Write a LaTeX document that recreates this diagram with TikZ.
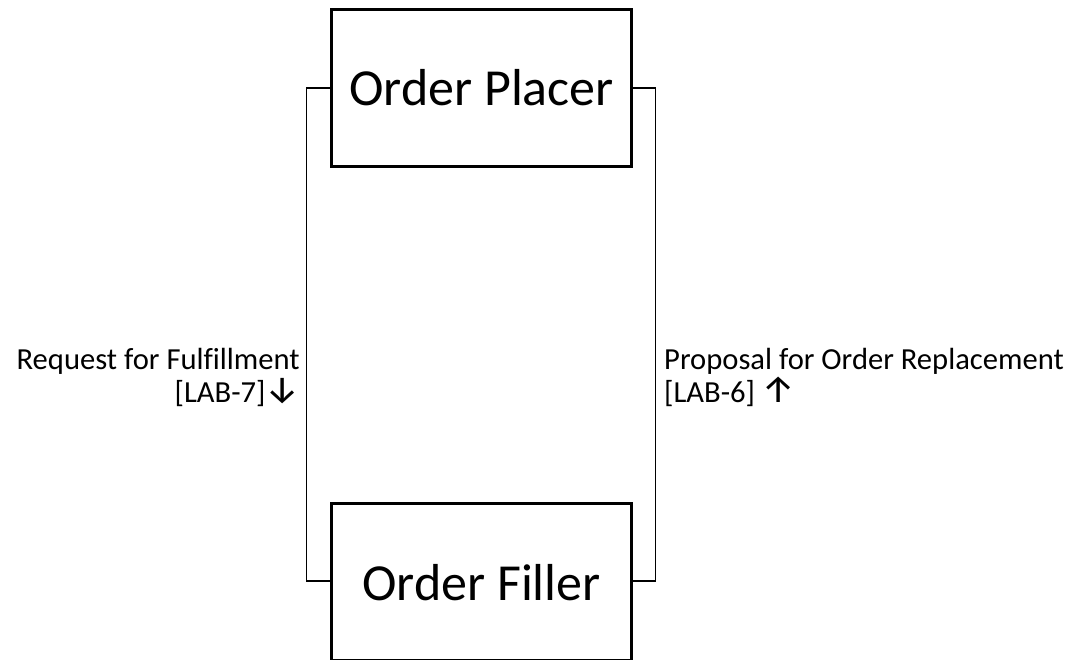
\documentclass[tikz,border=0pt]{standalone}
\usepackage{fontspec}
\setmainfont[Ligatures=NoCommon]{Carlito}
\newfontfamily\arrowfont{Fira Sans}
\newcommand{\arrowglyph}[1]{{\arrowfont\fontsize{38}{36}\selectfont #1}}
\begin{document}
\begin{tikzpicture}[x=1pt,y=-1pt,
  actor/.style={draw=black,line width=3pt,minimum width=300pt,minimum height=157pt,inner sep=0pt,font=\fontsize{52}{60}\selectfont},
  conn/.style={draw=black,line width=1.4pt},
  lbl/.style={inner sep=0pt,font=\fontsize{30.6}{36}\selectfont}]
\useasboundingbox (0,0) rectangle (1087,660);
\clip (0,0) rectangle (1087,660);
\node[actor] (placer) at (481.5,88) {Order Placer};
\node[actor] (filler) at (481.5,582) {};
\node[inner sep=0pt,font=\fontsize{52}{60}\selectfont] (fillertext) at (481.5,583) {Order Filler};
\coordinate (pl) at (placer.west |- 0,88);
\coordinate (pr) at (placer.east |- 0,88);
\coordinate (fl) at (filler.west |- 0,581);
\coordinate (fr) at (filler.east |- 0,581);
\draw[conn] (pl) -- ++(-23.5,0) |- (fl);
\draw[conn] (pr) -- ++(22.5,0) |- (fr);
\node[lbl,anchor=base east] (req1) at (300,369) {Request for Fulfillment};
\node[lbl,anchor=base east] (req2) at (300,402) {[LAB-7]\arrowglyph{↓}};
\node[lbl,anchor=base west] (prop1) at (664,369) {Proposal for Order Replacement};
\node[lbl,anchor=base west] (prop2) at (664,402) {[LAB-6] \arrowglyph{↑}};
\end{tikzpicture}
\end{document}
